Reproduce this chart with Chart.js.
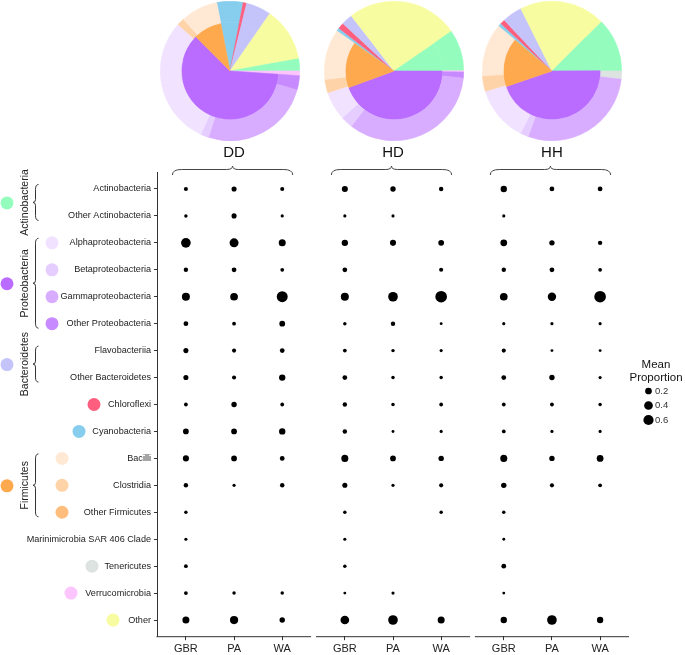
<!DOCTYPE html>
<html>
<head>
<meta charset="utf-8">
<script src="https://cdn.jsdelivr.net/npm/chart.js@4.4.1/dist/chart.umd.min.js"></script>
<style>
  html, body { margin: 0; padding: 0; background: #fff; }
  #wrap { position: relative; width: 685px; height: 655px; overflow: hidden; }
  #main { position: absolute; left: 0; top: 0; }
  .pie { position: absolute; top: 1px; }
</style>
</head>
<body>
<div id="wrap">
  <canvas id="main" width="685" height="655"></canvas>
  <canvas id="pieDD" class="pie" width="140" height="140" style="left:160px"></canvas>
  <canvas id="pieHD" class="pie" width="140" height="140" style="left:324px"></canvas>
  <canvas id="pieHH" class="pie" width="140" height="140" style="left:482px"></canvas>
</div>
<script>
// categories (rows, top to bottom)
const categories = ["Actinobacteria", "Other Actinobacteria", "Alphaproteobacteria", "Betaproteobacteria",
  "Gammaproteobacteria", "Other Proteobacteria", "Flavobacteriia", "Other Bacteroidetes", "Chloroflexi",
  "Cyanobacteria", "Bacilli", "Clostridia", "Other Firmicutes", "Marinimicrobia SAR 406 Clade",
  "Tenericutes", "Verrucomicrobia", "Other"];
const treatments = ["DD", "HD", "HH"];
const sites = ["GBR", "PA", "WA"];

// mean proportion per category (null = absent)
const DD_GBR = [0.026, 0.01, 0.47, 0.036, 0.28, 0.05, 0.064, 0.064, 0.017, 0.10, 0.12, 0.036, 0.01, 0.005, 0.017, 0.017, 0.19];
const DD_PA  = [0.064, 0.064, 0.39, 0.05, 0.25, 0.017, 0.026, 0.026, 0.08, 0.10, 0.10, 0.005, null, null, null, 0.01, 0.30];
const DD_WA  = [0.026, 0.005, 0.19, 0.017, 0.65, 0.10, 0.05, 0.14, 0.017, 0.14, 0.05, 0.036, null, null, null, 0.01, 0.08];
const HD_GBR = [0.12, 0.005, 0.14, 0.05, 0.28, 0.01, 0.017, 0.05, 0.036, 0.036, 0.19, 0.064, 0.01, 0.005, 0.01, 0.002, 0.35];
const HD_PA  = [0.08, 0.005, 0.12, null, 0.47, 0.036, 0.01, 0.01, 0.01, 0.002, 0.10, 0.005, null, null, null, 0.005, 0.47];
const HD_WA  = [0.036, null, 0.10, 0.026, 0.76, 0.002, 0.005, 0.01, 0.017, 0.005, 0.08, 0.026, 0.01, null, null, null, 0.19];
const HH_GBR = [0.14, 0.005, 0.17, 0.036, 0.25, 0.005, 0.026, 0.05, 0.017, 0.017, 0.19, 0.08, 0.01, 0.002, 0.05, 0.002, 0.14];
const HH_PA  = [0.05, null, 0.08, 0.05, 0.32, 0.005, 0.002, 0.08, 0.017, 0.005, 0.08, 0.026, null, null, null, null, 0.47];
const HH_WA  = [0.05, null, 0.036, 0.017, 0.76, 0.005, 0.002, 0.005, 0.01, 0.005, 0.17, 0.017, null, null, null, null, 0.14];
const sizeBreaks = [0.2, 0.4, 0.6];

// pie slices (% of community), inner ring = phylum, outer ring = class
const innerLabels = ["Cyanobacteria", "Chloroflexi", "Bacteroidetes", "Other", "Actinobacteria",
  "Verrucomicrobia", "Proteobacteria", "Firmicutes"];
const DD_inner = [6.1, 0.8, 5.8, 12.5, 2.8, 1.1, 61.4, 9.4];
const HD_inner = [0.8, 1.4, 2.6, 25.9, 9.6, 0, 44.4, 15.3];
const HH_inner = [0.8, 1.1, 4.6, 19.9, 12.4, 0, 44.9, 16.3];
const outerLabels = ["Cyanobacteria", "Chloroflexi", "Bacteroidetes", "Other", "Actinobacteria",
  "Verrucomicrobia", "Tenericutes", "Other Proteobacteria", "Gammaproteobacteria", "Betaproteobacteria",
  "Alphaproteobacteria", "Clostridia", "Bacilli"];
const DD_outer = [6.1, 0.8, 5.8, 12.5, 2.8, 1.1, 0, 3.3, 25.6, 1.9, 29.7, 1.7, 8.6];
const HD_outer = [0.8, 1.4, 2.6, 25.9, 9.6, 0.3, 0, 1.4, 33.9, 2.8, 6.7, 3.1, 11.7];
const HH_outer = [0.8, 1.1, 4.6, 19.9, 12.4, 0, 1.9, 0, 28.6, 1.9, 12.8, 3.6, 12.2];
const pieStart = [-11, 305, 310]; // degrees, clockwise from 12 o'clock

const palette = {
  "Actinobacteria": "#94FDBE", "Proteobacteria": "#B96CFF", "Bacteroidetes": "#C4C4FA", "Firmicutes": "#FFA94F",
  "Alphaproteobacteria": "#F1E2FF", "Betaproteobacteria": "#E6CDFF", "Gammaproteobacteria": "#D8ACFF",
  "Other Proteobacteria": "#C78BFF", "Chloroflexi": "#FF5E7E", "Cyanobacteria": "#87CEEE",
  "Bacilli": "#FFE9D5", "Clostridia": "#FFD3A8", "Other Firmicutes": "#FFBE7D", "Tenericutes": "#DDE3E1",
  "Verrucomicrobia": "#FDC5FD", "Other": "#F8FCA0"
};

const FONT = '"Liberation Sans", Arial, Helvetica, sans-serif';
const PANEL_STEP = 3.3;
const sizeOf = v => 1.2 + 5.3 * Math.sqrt(v);

const columns = [[DD_GBR, DD_PA, DD_WA], [HD_GBR, HD_PA, HD_WA], [HH_GBR, HH_PA, HH_WA]];
const xPositions = [];
const points = [];
columns.forEach((cols, p) => {
  cols.forEach((vals, s) => {
    const x = p * PANEL_STEP + s;
    xPositions.push(x);
    vals.forEach((v, row) => {
      if (v !== null) points.push({ x: x, y: row, r: sizeOf(v), v: v });
    });
  });
});

// left-side decorations
const groups = [
  { name: "Actinobacteria", from: 0, to: 1 },
  { name: "Proteobacteria", from: 2, to: 5 },
  { name: "Bacteroidetes", from: 6, to: 7 },
  { name: "Firmicutes", from: 10, to: 12 }
];
const swatchX = { 2: 52, 3: 52, 4: 52, 5: 52, 8: 94, 9: 79, 10: 62, 11: 62, 12: 62, 14: 92, 15: 71, 16: 113 };

function braceH(ctx, x1, x2, yBase, yTip) {
  const xm = (x1 + x2) / 2, yl = yBase - 5.5;
  ctx.beginPath();
  ctx.moveTo(x1, yBase);
  ctx.quadraticCurveTo(x1, yl, x1 + 9, yl);
  ctx.lineTo(xm - 6, yl);
  ctx.quadraticCurveTo(xm, yl, xm, yTip);
  ctx.quadraticCurveTo(xm, yl, xm + 6, yl);
  ctx.lineTo(x2 - 9, yl);
  ctx.quadraticCurveTo(x2, yl, x2, yBase);
  ctx.stroke();
}

function braceV(ctx, xArm, xTip, y1, y2) {
  const ym = (y1 + y2) / 2, xl = xArm - 3;
  ctx.beginPath();
  ctx.moveTo(xArm, y1);
  ctx.quadraticCurveTo(xl, y1, xl, y1 + 5);
  ctx.lineTo(xl, ym - 3);
  ctx.quadraticCurveTo(xl, ym, xTip, ym);
  ctx.quadraticCurveTo(xl, ym, xl, ym + 3);
  ctx.lineTo(xl, y2 - 5);
  ctx.quadraticCurveTo(xl, y2, xArm, y2);
  ctx.stroke();
}

function dot(ctx, x, y, r, color) {
  ctx.beginPath();
  ctx.arc(x, y, r, 0, Math.PI * 2);
  ctx.fillStyle = color;
  ctx.fill();
}

const decor = {
  id: "decor",
  afterDraw(chart) {
    const ctx = chart.ctx;
    const xs = chart.scales.x, ys = chart.scales.y;
    const bottom = chart.chartArea.bottom;
    ctx.save();

    // panel x-axis lines
    ctx.strokeStyle = "#333";
    ctx.lineWidth = 1;
    treatments.forEach((t, p) => {
      const a = xs.getPixelForValue(p * PANEL_STEP - 0.6);
      const b = xs.getPixelForValue(p * PANEL_STEP + 2.6);
      ctx.beginPath();
      ctx.moveTo(p === 0 ? a - 0.5 : a, bottom + 0.5);
      ctx.lineTo(b, bottom + 0.5);
      ctx.stroke();
    });

    // panel titles with braces
    treatments.forEach((t, p) => {
      const g = xs.getPixelForValue(p * PANEL_STEP);
      const w = xs.getPixelForValue(p * PANEL_STEP + 2);
      const mid = (g + w) / 2;
      ctx.fillStyle = "#111";
      ctx.font = "15px " + FONT;
      ctx.textAlign = "center";
      ctx.textBaseline = "middle";
      ctx.fillText(t, mid, 153);
      ctx.strokeStyle = "#444";
      braceH(ctx, g - 13.5, w + 10.5, 175, 166);
    });

    // phylum groups on the left
    groups.forEach(gr => {
      const y1 = ys.getPixelForValue(gr.from) - 4.5;
      const y2 = ys.getPixelForValue(gr.to) + 4.5;
      const ym = (y1 + y2) / 2;
      ctx.strokeStyle = "#333";
      braceV(ctx, 38.5, 33, y1, y2);
      ctx.save();
      ctx.translate(25, ym);
      ctx.rotate(-Math.PI / 2);
      ctx.fillStyle = "#222";
      ctx.font = "10.5px " + FONT;
      ctx.textAlign = "center";
      ctx.textBaseline = "middle";
      ctx.fillText(gr.name, 0, 0);
      ctx.restore();
      dot(ctx, 7, ym + 0.5, 6.5, palette[gr.name]);
    });

    // class swatches
    Object.keys(swatchX).forEach(k => {
      const row = +k;
      dot(ctx, swatchX[k], ys.getPixelForValue(row), 6.5, palette[categories[row]]);
    });

    // size legend
    ctx.fillStyle = "#111";
    ctx.font = "11.5px " + FONT;
    ctx.textAlign = "center";
    ctx.textBaseline = "middle";
    ctx.fillText("Mean", 656, 365);
    ctx.fillText("Proportion", 656, 378);
    const legY = [391, 405.5, 420];
    sizeBreaks.forEach((v, i) => {
      dot(ctx, 648.5, legY[i], sizeOf(v) - 0.2, "#000");
      ctx.fillStyle = "#333";
      ctx.font = "9.5px " + FONT;
      ctx.textAlign = "left";
      ctx.fillText(v.toFixed(1), 655, legY[i]);
    });
    ctx.restore();
  }
};

new Chart(document.getElementById("main"), {
  type: "bubble",
  data: {
    datasets: [{
      label: "Mean Proportion",
      data: points,
      backgroundColor: "#000",
      borderWidth: 0,
      hoverRadius: 0
    }]
  },
  options: {
    responsive: false,
    animation: false,
    events: [],
    layout: { padding: { top: 172.8, right: 56, bottom: 0, left: 0 }, autoPadding: false },
    plugins: { legend: { display: false }, tooltip: { enabled: false } },
    scales: {
      x: {
        type: "linear",
        min: -0.6,
        max: 2 * PANEL_STEP + 2.6,
        afterBuildTicks: s => { s.ticks = xPositions.map(v => ({ value: v })); },
        afterFit: s => { s.height = 18.8; },
        ticks: {
          autoSkip: false,
          maxRotation: 0,
          padding: 2,
          color: "#222",
          font: { family: FONT, size: 11 },
          callback: (v, i) => sites[i % 3]
        },
        grid: { drawOnChartArea: false, drawTicks: true, tickLength: 4, color: "#333" },
        border: { display: false }
      },
      y: {
        type: "linear",
        min: -0.6,
        max: 16.6,
        reverse: true,
        afterBuildTicks: s => { s.ticks = categories.map((c, i) => ({ value: i })); },
        afterFit: s => { s.width = 157; },
        ticks: {
          autoSkip: false,
          padding: 3,
          color: "#222",
          font: { family: FONT, size: 9.1 },
          callback: (v, i) => categories[i]
        },
        grid: { drawOnChartArea: false, drawTicks: true, tickLength: 3, color: "#333" },
        border: { display: true, color: "#333", width: 1 }
      }
    }
  },
  plugins: [decor]
});

// pies
function ring(labels, values, start, weight) {
  const keep = values.map((v, i) => i).filter(i => values[i] > 0);
  const colors = keep.map(i => palette[labels[i]]);
  return {
    data: keep.map(i => values[i]),
    backgroundColor: colors,
    borderColor: colors,
    borderWidth: 0.6,
    rotation: start,
    weight: weight
  };
}

const pies = [["pieDD", DD_outer, DD_inner], ["pieHD", HD_outer, HD_inner], ["pieHH", HH_outer, HH_inner]];
pies.forEach(([id, outer, inner], i) => {
  new Chart(document.getElementById(id), {
    type: "doughnut",
    data: {
      datasets: [
        ring(outerLabels, outer, pieStart[i], 0.3),
        ring(innerLabels, inner, pieStart[i], 0.7)
      ]
    },
    options: {
      responsive: false,
      animation: false,
      events: [],
      cutout: 0,
      layout: { padding: 0 },
      plugins: { legend: { display: false }, tooltip: { enabled: false } }
    }
  });
});
</script>
</body>
</html>
